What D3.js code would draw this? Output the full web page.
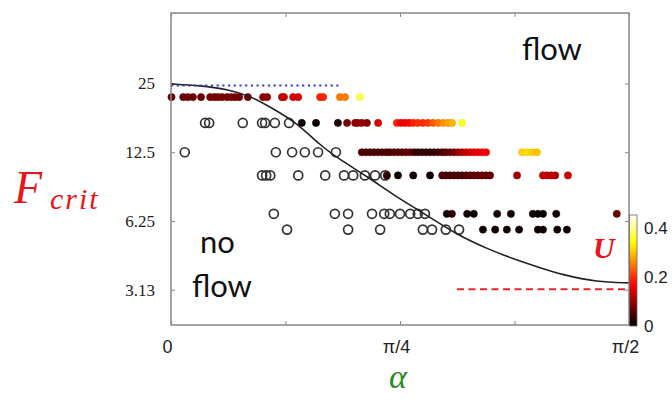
<!DOCTYPE html>
<html>
<head>
<meta charset="utf-8">
<script src="https://cdn.jsdelivr.net/npm/d3@7"></script>
<style>
  body { margin: 0; background: #fff; }
</style>
</head>
<body>
<svg width="672" height="399"></svg>
<script>
// axis ticks
const alphaTicks = [0, 22.5, 45, 67.5, 90];
const alphaTickLabels = ["0", "", "π/4", "", "π/2"];
const fTicks = [3.125, 6.25, 12.5, 25];
const fTickLabels = ["3.13", "6.25", "12.5", "25"];
const uTicks = [0, 0.2, 0.4];
const uTickLabels = ["0", "0.2", "0.4"];

// F level of each row of runs
const rowLevels = [21.8, 16.8, 12.5, 9.9, 6.72, 5.73];

// alpha (degrees) of runs with no flow (open circles), one list per row
const noFlowA = [];
const noFlowB = [6.7, 7.5, 14.1, 17.9, 18.5, 20.4, 23.2];
const noFlowC = [2.7, 20.6, 23.8, 26.3, 28.9, 32.4];
const noFlowD = [17.9, 18.7, 19.5, 25.0, 30.3, 34.0, 35.8, 38.1, 40.1, 42.1];
const noFlowE = [20.2, 32.2, 34.8, 39.5, 41.9, 43.0, 45.0, 47.0, 48.5, 49.9];
const noFlowF = [22.8, 34.8, 41.1, 49.5, 51.3, 54.0, 56.6];

// runs with flow: [alpha (degrees), U]
const flowA = [[0.1,.07],[2.4,.07],[3.3,.075],[4.3,.07],[5.9,.075],[7.7,.08],[8.5,.08],[9.2,.08],
  [10.0,.08],[11.0,.08],[11.8,.085],[12.6,.08],[13.4,.08],[15.1,.075],[18.1,.09],[18.9,.095],
  [21.8,.125],[22.2,.13],[24.0,.14],[25.0,.145],[29.3,.19],[29.9,.195],[33.2,.25],[34.2,.255],[37.1,.37]];
const flowB = [[25.7,.01],[28.5,.01],[32.8,.02],[34.6,.08],[36.2,.09],[36.7,.10],[37.5,.10],[38.5,.09],
  [40.7,.15],[44.4,.19],[45.2,.16],[46.0,.16],[46.8,.17],[47.6,.19],[48.5,.20],[49.5,.20],[50.5,.21],
  [51.5,.23],[52.5,.25],[53.5,.27],[54.4,.28],[55.2,.29],[57.2,.36]];
const flowC = [[37.5,.05],[38.3,.05],[39.1,.055],[39.9,.05],[40.7,.055],[41.5,.05],[42.3,.055],[43.0,.05],
  [43.8,.055],[44.6,.06],[45.4,.06],[46.2,.06],[47.0,.07],[47.8,.04],[48.5,.035],[49.3,.035],[50.1,.035],
  [50.9,.03],[51.7,.035],[52.5,.04],[53.3,.05],[54.0,.06],[54.8,.07],[55.6,.08],[56.4,.10],[57.2,.12],
  [58.0,.13],[58.8,.14],[59.5,.15],[60.3,.155],[61.1,.16],[61.9,.165],
  [69.0,.31],[70.0,.32],[70.9,.31],[71.9,.30]];
const flowD = [[42.4,.03],[44.6,.01],[47.6,.01],[50.9,.01],[53.3,.05],[54.0,.05],[54.8,.045],[55.6,.05],
  [56.4,.05],[57.2,.05],[58.0,.06],[58.8,.06],[59.5,.065],[60.3,.065],[61.1,.07],[61.9,.07],[62.7,.07],
  [68.0,.11],[73.1,.13],[73.9,.13],[74.7,.13],[75.5,.12],[78.0,.14]];
const flowE = [[54.2,.01],[55.2,.03],[58.2,.01],[59.5,.01],[64.1,.01],[66.8,.01],[71.1,.01],[72.1,.01],
  [73.1,.01],[75.7,.01],[87.6,.07]];
const flowF = [[61.3,.01],[63.7,.01],[66.0,.01],[68.4,.01],[72.1,.01],[73.1,.01],[75.9,.01],[77.8,.01]];

// critical force curve
const curveAlpha = [0, 5.7, 11.0, 15.9, 19.5, 24.8, 29.3, 33.2, 38.7, 44.0, 49.5, 56.2, 62.7, 67.2, 72.5, 77.0, 83.7, 90];
const curveF = [24.9, 24.5, 23.65, 21.9, 19.7, 16.8, 13.4, 11.6, 9.74, 8.05, 6.79, 5.43, 4.67, 4.27, 3.90, 3.63, 3.38, 3.35];

// reference lines
const blueLine = [[0, 24.5], [33.6, 24.5]];
const redLine = [[56.2, 3.14], [90, 3.14]];

const svg = d3.select("svg"),
    margin = {top: 13, right: 43, bottom: 74, left: 171},
    width = +svg.attr("width") - margin.left - margin.right,
    height = +svg.attr("height") - margin.top - margin.bottom,
    g = svg.append("g").attr("transform", "translate(" + margin.left + "," + margin.top + ")");

let x = d3.scaleLinear().domain([0, 90]).range([0, width]),
    y = d3.scaleLog().domain([2.19, 50.9]).range([height, 0]);

// matlab "hot" colormap
let hot = d3.scaleLinear()
    .domain([0, 0.17, 0.34, 0.453])
    .range(["#000000", "#ff0000", "#ffff00", "#ffffff"])
    .clamp(true);

// axes, ticks pointing in
const tickColor = "#888";
function styleAxis(sel) {
    sel.select(".domain").remove();
    sel.selectAll(".tick line").attr("stroke", tickColor);
}

g.append("g")
    .attr("transform", "translate(0," + height + ")")
    .call(d3.axisBottom(x).tickValues(alphaTicks).tickSize(-4).tickPadding(15)
        .tickFormat(function(d, i) { return alphaTickLabels[i]; }))
    .call(styleAxis)
    .selectAll("text")
    .attr("dx", -4)
    .attr("fill", "#222")
    .style("font", "18px 'Liberation Sans', Arial, sans-serif");

g.append("g")
    .call(d3.axisTop(x).tickValues(alphaTicks).tickSize(-4).tickFormat(""))
    .call(styleAxis);

g.append("g")
    .call(d3.axisLeft(y).tickValues(fTicks).tickSize(-4).tickPadding(16)
        .tickFormat(function(d, i) { return fTickLabels[i]; }))
    .call(styleAxis)
    .selectAll("text")
    .attr("fill", "#222")
    .style("font", "17px 'Liberation Serif', 'Times New Roman', serif");

g.append("g")
    .attr("transform", "translate(" + width + ",0)")
    .call(d3.axisRight(y).tickValues(fTicks).tickSize(-4).tickFormat(""))
    .call(styleAxis);

// points
function openPts(list, row) { return list.map(function(a) { return {a: a, f: rowLevels[row]}; }); }
function flowPts(list, row) { return list.map(function(p) { return {a: p[0], f: rowLevels[row], u: p[1]}; }); }

let noFlow = [].concat(openPts(noFlowA, 0), openPts(noFlowB, 1), openPts(noFlowC, 2),
    openPts(noFlowD, 3), openPts(noFlowE, 4), openPts(noFlowF, 5));
let flow = [].concat(flowPts(flowA, 0), flowPts(flowB, 1), flowPts(flowC, 2),
    flowPts(flowD, 3), flowPts(flowE, 4), flowPts(flowF, 5));

g.selectAll(".noflow")
    .data(noFlow)
    .enter().append("circle")
    .attr("class", "noflow")
    .attr("r", 4.5)
    .attr("cx", function(d) { return x(d.a); })
    .attr("cy", function(d) { return y(d.f); })
    .attr("fill", "none")
    .attr("stroke", "#333")
    .attr("stroke-width", 1.7);

g.selectAll(".flow")
    .data(flow)
    .enter().append("circle")
    .attr("class", "flow")
    .attr("r", 3.6)
    .attr("cx", function(d) { return x(d.a); })
    .attr("cy", function(d) { return y(d.f); })
    .attr("fill", function(d) { return hot(d.u); })
    .attr("stroke", function(d) { return d3.color(hot(d.u)).darker(0.3); })
    .attr("stroke-width", 0.6);

let line = d3.line()
    .x(function(d) { return x(d[0]); })
    .y(function(d) { return y(d[1]); })
    .curve(d3.curveBasis);

g.append("path")
    .datum(curveAlpha.map(function(a, i) { return [a, curveF[i]]; }))
    .attr("fill", "none")
    .attr("stroke", "#222")
    .attr("stroke-width", 1.6)
    .attr("d", line);

let straight = d3.line()
    .x(function(d) { return x(d[0]); })
    .y(function(d) { return y(d[1]); });

g.append("path")
    .datum(blueLine)
    .attr("fill", "none")
    .attr("stroke", "#3a3ad8")
    .attr("stroke-width", 2.2)
    .attr("stroke-dasharray", "2.2,3.5")
    .attr("d", straight);

g.append("path")
    .datum(redLine)
    .attr("fill", "none")
    .attr("stroke", "#e8262a")
    .attr("stroke-width", 2)
    .attr("stroke-dasharray", "7,4.5")
    .attr("d", straight);

// frame
g.append("rect")
    .attr("width", width)
    .attr("height", height)
    .attr("fill", "none")
    .attr("stroke", "#888")
    .attr("stroke-width", 1.5);

// colorbar
let cb = d3.scaleLinear().domain([0, 0.453]).range([326, 215]);
let grad = svg.append("defs").append("linearGradient")
    .attr("id", "hotgrad")
    .attr("x1", 0).attr("y1", 1).attr("x2", 0).attr("y2", 0);
grad.selectAll("stop")
    .data(d3.range(0, 1.0001, 0.05))
    .enter().append("stop")
    .attr("offset", function(d) { return d; })
    .attr("stop-color", function(d) { return hot(d * 0.453); });

svg.append("rect")
    .attr("x", 629.5)
    .attr("y", cb(0.453))
    .attr("width", 7.5)
    .attr("height", cb(0) - cb(0.453))
    .attr("fill", "url(#hotgrad)")
    .attr("stroke", "#666")
    .attr("stroke-width", 0.8);

svg.append("g")
    .attr("transform", "translate(637,0)")
    .call(d3.axisRight(cb).tickValues(uTicks).tickSize(0).tickPadding(7)
        .tickFormat(function(d, i) { return uTickLabels[i]; }))
    .call(function(s) { s.select(".domain").remove(); })
    .selectAll("text")
    .attr("fill", "#222")
    .style("font", "17px 'Liberation Sans', Arial, sans-serif");

// labels
svg.append("text")
    .attr("x", 522).attr("y", 60)
    .style("font", "31px Lato, 'Open Sans', sans-serif")
    .attr("fill", "#111")
    .text("flow");

svg.append("text")
    .attr("x", 200).attr("y", 253)
    .style("font", "31px Lato, 'Open Sans', sans-serif")
    .attr("fill", "#111")
    .text("no");

svg.append("text")
    .attr("x", 192).attr("y", 297)
    .style("font", "31px Lato, 'Open Sans', sans-serif")
    .attr("fill", "#111")
    .text("flow");

let fLabel = svg.append("text")
    .attr("x", 14).attr("y", 203)
    .attr("fill", "#e8141c")
    .style("font", "italic 46px 'Liberation Serif', 'Times New Roman', serif");
fLabel.append("tspan").text("F");
fLabel.append("tspan")
    .attr("x", 50).attr("y", 209)
    .style("font-size", "30px")
    .attr("letter-spacing", 2)
    .text("crit");

svg.append("text")
    .attr("x", 593).attr("y", 258)
    .attr("fill", "#e8141c")
    .style("font", "italic bold 30px 'Liberation Serif', 'Times New Roman', serif")
    .text("U");

svg.append("text")
    .attr("x", 398).attr("y", 388)
    .attr("text-anchor", "middle")
    .attr("fill", "#2a8a2a")
    .style("font", "italic 34px 'Liberation Serif', 'Times New Roman', serif")
    .text("α");
</script>
</body>
</html>
